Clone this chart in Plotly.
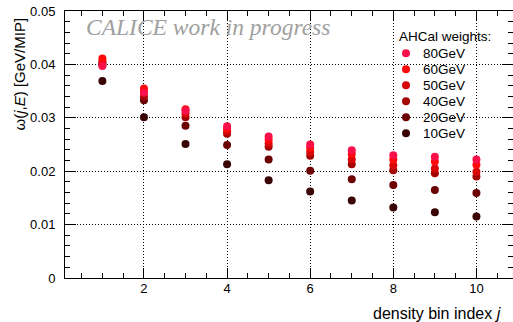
import plotly.graph_objects as go

# density bin index
bins = [1, 2, 3, 4, 5, 6, 7, 8, 9, 10]

# AHCal weights per density bin, one list per beam energy
w80 = [0.0397, 0.0347, 0.0313, 0.0284, 0.0265, 0.0250, 0.0239, 0.0230, 0.0227, 0.0222]
w60 = [0.0411, 0.0355, 0.0316, 0.0280, 0.0259, 0.0244, 0.0232, 0.0222, 0.0218, 0.0212]
w50 = [0.0406, 0.0350, 0.0308, 0.0275, 0.0252, 0.0236, 0.0222, 0.0211, 0.0205, 0.0199]
w40 = [0.0402, 0.0340, 0.0301, 0.0270, 0.0246, 0.0229, 0.0213, 0.0202, 0.0196, 0.0190]
w20 = [0.0399, 0.0333, 0.0285, 0.0249, 0.0222, 0.0201, 0.0185, 0.0174, 0.0165, 0.0159]
w10 = [0.0369, 0.0301, 0.0251, 0.0213, 0.0183, 0.0162, 0.0145, 0.0132, 0.0123, 0.0115]

names = ["80GeV", "60GeV", "50GeV", "40GeV", "20GeV", "10GeV"]
series = [w80, w60, w50, w40, w20, w10]
colors = ["#fa1048", "#ff0a0a", "#d80808", "#a30404", "#6c0202", "#3a0404"]

FONT = "Liberation Sans, Arial, sans-serif"
W, H = 513, 322
L, R, T, B = 65, 0, 11, 44
PW, PH = W - L - R, H - T - B


def px_x(p):
    return (p - L) / PW


def px_y(p):
    return (H - B - p) / PH


fig = go.Figure()

# lowest energy first so the high-energy points sit on top
for name, vals, col in reversed(list(zip(names, series, colors))):
    fig.add_trace(go.Scatter(
        x=bins, y=vals, mode="markers", name=name,
        marker=dict(symbol="circle", size=8, color=col, line=dict(width=0)),
        showlegend=False,
    ))

axis_common = dict(
    showline=True, linecolor="black", linewidth=1, mirror="allticks",
    ticks="inside", tickcolor="black", tickwidth=1,
    showgrid=True, gridcolor="black", gridwidth=1, griddash="1px,2px",
    zeroline=False,
    tickfont=dict(family=FONT, size=13, color="black"),
)

fig.update_xaxes(
    range=[0.1, 10.88], tickmode="linear", tick0=2, dtick=2, ticklen=10,
    minor=dict(ticks="inside", dtick=0.5, tick0=0, ticklen=5, tickcolor="black", showgrid=False),
    ticklabelstandoff=-2,
    **axis_common,
)
fig.update_yaxes(
    range=[0, 0.05], tickmode="linear", tick0=0, dtick=0.01, ticklen=11,
    minor=dict(ticks="inside", dtick=0.002, tick0=0, ticklen=5, tickcolor="black", showgrid=False),
    ticklabelstandoff=6,
    **axis_common,
)

annotations = []
shapes = []

# axis titles
annotations.append(dict(
    text="ω(<i>j</i>,<i>E</i>) [GeV/MIP]", textangle=-90,
    xref="paper", yref="paper", x=px_x(19), y=px_y(16),
    xanchor="center", yanchor="top", showarrow=False,
    font=dict(family=FONT, size=15, color="black"),
))
annotations.append(dict(
    text="density bin index <i>j</i>",
    xref="paper", yref="paper", x=px_x(503), y=px_y(313),
    xanchor="right", yanchor="middle", showarrow=False,
    font=dict(family=FONT, size=16, color="black"),
))

# status label
annotations.append(dict(
    text="<i>CALICE work in progress</i>",
    xref="paper", yref="paper", x=px_x(84), y=px_y(27),
    xanchor="left", yanchor="middle", showarrow=False,
    font=dict(family="Liberation Serif, Times New Roman, serif", size=23.5, color="#a0a0a0"),
))

# legend block
annotations.append(dict(
    text="AHCal weights:",
    xref="paper", yref="paper", x=px_x(397), y=px_y(36),
    xanchor="left", yanchor="middle", showarrow=False,
    font=dict(family=FONT, size=13.5, color="black"),
))
for i, (name, col) in enumerate(zip(names, colors)):
    yc = 53.3 + 16 * i
    shapes.append(dict(
        type="circle", xref="paper", yref="paper",
        xsizemode="pixel", ysizemode="pixel",
        xanchor=px_x(406), yanchor=px_y(yc),
        x0=-4, x1=4, y0=-4, y1=4,
        fillcolor=col, line=dict(width=0),
    ))
    annotations.append(dict(
        text=name,
        xref="paper", yref="paper", x=px_x(421), y=px_y(yc),
        xanchor="left", yanchor="middle", showarrow=False,
        font=dict(family=FONT, size=13.5, color="black"),
    ))

fig.update_layout(
    width=W, height=H,
    margin=dict(l=L, r=R, t=T, b=B, pad=0),
    paper_bgcolor="white", plot_bgcolor="white",
    annotations=annotations, shapes=shapes,
    showlegend=False,
)

fig.write_html("out.html")
